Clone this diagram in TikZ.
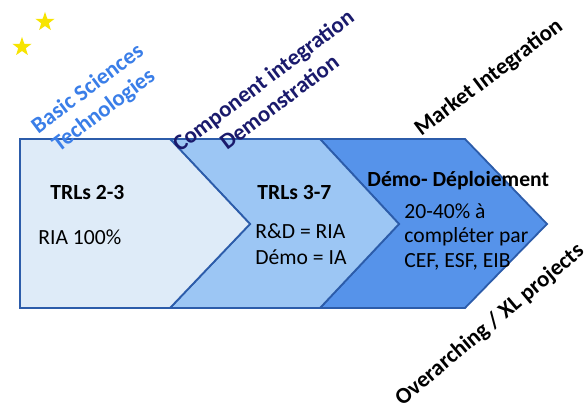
\documentclass[tikz,border=0pt]{standalone}
\usepackage{fontspec}
\setmainfont{Carlito}
\usetikzlibrary{shapes.geometric}
\definecolor{paleblue}{HTML}{DEEBF8}
\definecolor{midblue}{HTML}{9CC6F4}
\definecolor{deepblue}{HTML}{5693EA}
\definecolor{edgeblue}{HTML}{2C5CAA}
\definecolor{skyblue}{HTML}{3A7EE8}
\definecolor{navy}{HTML}{1A1A6C}
\definecolor{staryellow}{HTML}{F7E400}
\newcommand{\txtsize}{\fontsize{10.8}{13}\selectfont}
\newcommand{\tiltsize}{\fontsize{11.4}{13.4}\selectfont}

\begin{document}
\begin{tikzpicture}[x=0.5pt,y=-0.5pt,font=\txtsize,
    chev/.style={draw=edgeblue,line width=0.9pt,line join=miter},
    lbl/.style={anchor=west,inner sep=0pt},
    tilt/.style={rotate=#1,align=center,inner sep=0pt,font=\tiltsize\bfseries},
    tilt/.default=37,
    estar/.style={star,star points=5,star point ratio=2.5,fill=staryellow,inner sep=0pt,minimum size=10pt}]
    \useasboundingbox (0,0) rectangle (588,410);

    % the three chevrons
    \draw[chev,fill=deepblue] (320,139) -- (465,139) -- (547,224) -- (465,308) -- (320,308) -- (399,224) -- cycle;
    \draw[chev,fill=midblue] (170,139) -- (320,139) -- (399,224) -- (320,308) -- (170,308) -- (250,224) -- cycle;
    \draw[chev,fill=paleblue] (20,139) -- (170,139) -- (250,224) -- (170,308) -- (20,308) -- cycle;

    % stars
    \node[estar] (star1) at (45,22) {};
    \node[estar] (star2) at (22,47) {};

    % first chevron
    \node[lbl,font=\txtsize\bfseries] (trlA) at (50,193) {TRLs 2-3};
    \node[lbl] (riaA) at (38,237) {RIA 100\%};

    % second chevron
    \node[lbl,font=\txtsize\bfseries] (trlB) at (257,193) {TRLs 3-7};
    \node[lbl] (rdB) at (255,231) {R\&D = RIA};
    \node[lbl] (demoB) at (255,257) {Démo = IA};

    % third chevron
    \node[lbl,font=\txtsize\bfseries] (demoC) at (367,181) {Démo- Déploiement};
    \node[lbl] (pctC) at (404,211) {20-40\% à};
    \node[lbl] (compC) at (404,237) {compléter par};
    \node[lbl] (fundC) at (404,262) {CEF, ESF, EIB};

    % tilted headings
    \node[tilt,skyblue] (basic) at (96,100) {Basic Sciences\\Technologies};
    \node[tilt,navy] (comp) at (271,91) {Component integration\\Demonstration};
    \node[tilt,black] (market) at (489,78) {Market Integration};
    \node[tilt=40,black] (over) at (490,325) {Overarching / XL projects};
\end{tikzpicture}
\end{document}
